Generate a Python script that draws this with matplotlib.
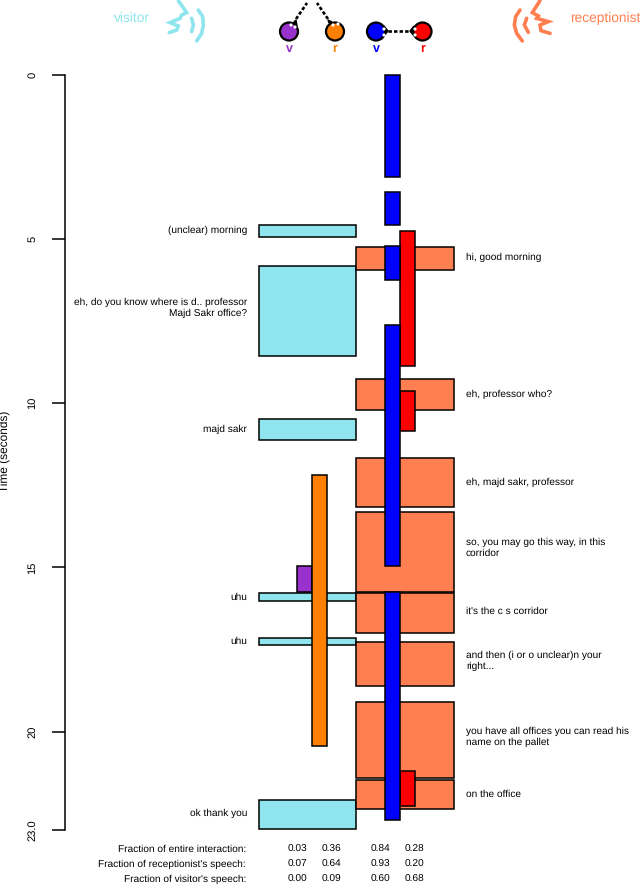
import matplotlib; matplotlib.use("Agg")
import matplotlib.pyplot as plt
from matplotlib.patches import Circle, Polygon

plt.rcParams['font.family'] = ['Liberation Sans', 'DejaVu Sans']
plt.rcParams['text.hinting'] = 'none'

# speech and gaze intervals, seconds
visitor_start = [4.57, 5.81, 10.48, 15.79, 17.16, 22.08]
visitor_end = [4.92, 8.55, 11.12, 16.01, 17.36, 22.98]
recept_start = [5.25, 9.27, 11.68, 13.32, 15.77, 17.28, 19.09, 21.47]
recept_end = [5.94, 10.22, 13.17, 15.74, 16.99, 18.60, 21.42, 22.36]
purple_start = [14.95]
purple_end = [15.76]
orange_start = [12.18]
orange_end = [20.44]
blue_start = [0.00, 3.56, 5.21, 7.62, 15.76]
blue_end = [3.11, 4.57, 6.24, 14.96, 22.69]
red_start = [4.75, 9.62, 21.20]
red_end = [8.88, 10.83, 22.27]

visitor_text = [(4.72, "(unclear) morning"),
                (7.10, "eh, do you know where is d.. professor\nMajd Sakr office?"),
                (10.78, "majd sakr"), (15.92, "uhu"), (17.24, "uhu"),
                (22.48, "ok thank you")]
recept_text = [(5.55, "hi, good morning"), (9.72, "eh, professor who?"),
               (12.40, "eh, majd sakr, professor"),
               (14.41, "so, you may go this way, in this\ncorridor"),
               (16.35, "it's the c s corridor"),
               (17.85, "and then (i or o unclear)n your\nright..."),
               (20.17, "you have all offices you can read his\nname on the pallet"),
               (21.90, "on the office")]

yticks = [0, 5, 10, 15, 20, 23]
yticklabels = ["0", "5", "10", "15", "20", "23.0"]

row_names = ["Fraction of entire interaction:", "Fraction of receptionist's speech:",
             "Fraction of visitor's speech:"]
purple_frac = ["0.03", "0.07", "0.00"]
orange_frac = ["0.36", "0.64", "0.09"]
blue_frac = ["0.84", "0.93", "0.60"]
red_frac = ["0.28", "0.20", "0.68"]

CYAN = '#8EE5EE'; CORAL = '#FF7F50'; PURPLE = '#9932CC'
ORANGE = '#FF7F00'; BLUE = '#0000FF'; RED = '#FF0000'
FS = 7.3

fig = plt.figure(figsize=(6.4, 8.85), dpi=100)
# horizontal units are pixels, vertical scale is time
ax = fig.add_axes([0, 0, 1, 1])
px = 755 / 23.0
ax.set_xlim(0, 640)
ax.set_ylim((885 - 75) / px, -75 / px)
ax.patch.set_visible(False)
for s in ['top', 'right', 'bottom']:
    ax.spines[s].set_visible(False)
ax.spines['left'].set_position(('data', 65))
ax.spines['left'].set_bounds(0, 23)
ax.spines['left'].set_linewidth(1.1)
ax.set_xticks([])
ax.set_yticks(yticks, yticklabels, rotation=90, va='center', fontsize=FS + 0.7)
ax.tick_params(axis='y', length=9.2, width=1.1, pad=10.5)


def bars(x0, x1, start, end, color, z):
    for a, b in zip(start, end):
        ax.bar(x0, b - a, width=x1 - x0, bottom=a, align='edge', color=color,
               edgecolor='black', linewidth=1.1, zorder=z)


bars(259, 356, visitor_start, visitor_end, CYAN, 2)
bars(356, 454, recept_start, recept_end, CORAL, 2)
bars(297, 312, purple_start, purple_end, PURPLE, 3)
bars(312, 327, orange_start, orange_end, ORANGE, 3)
bars(400, 415, red_start, red_end, RED, 3)
bars(385, 400, blue_start, blue_end, BLUE, 4)

for t, s in visitor_text:
    ax.text(247, t, s, ha='right', va='center', fontsize=FS, linespacing=1.2)
for t, s in recept_text:
    ax.text(466, t, s, ha='left', va='center', fontsize=FS, linespacing=1.2)

# overlay in pixel coordinates for the header drawings and footer table
ov = fig.add_axes([0, 0, 1, 1])
ov.set_xlim(0, 640); ov.set_ylim(885, 0); ov.axis('off')

ov.text(5.5, 451, "Time (seconds)", rotation=90, ha='center', va='center', fontsize=8.6)

for i, y in enumerate([849, 864, 879]):
    ov.text(246, y, row_names[i], ha='right', va='center', fontsize=FS)
    for x, col in zip([297.5, 331.5, 380, 414], [purple_frac, orange_frac, blue_frac, red_frac]):
        ov.text(x, y, col[i], ha='center', va='center', fontsize=FS)

ov.text(132, 18, "visitor", color=CYAN, ha='center', va='center', fontsize=9.9)
ov.text(605, 18, "receptionist", color=CORAL, ha='center', va='center', fontsize=9.9)


def icon(ox, paths, color):
    for p in paths:
        ov.plot([ox + q[0] / 3 for q in p], [q[1] / 3 for q in p], color=color, lw=2.6,
                solid_capstyle='round', solid_joinstyle='miter')


icon(160, [[(55, 2), (80, 38), (65, 45), (60, 55), (30, 68), (55, 78), (50, 90), (28, 98)],
           [(95, 55), (100, 75), (95, 95)],
           [(115, 30), (128, 50), (130, 75), (125, 100), (110, 123)]], CYAN)
icon(505, [[(105, 2), (82, 38), (100, 48), (95, 55), (130, 65), (105, 75), (108, 92), (135, 100)],
           [(65, 55), (58, 75), (70, 97)],
           [(45, 30), (32, 50), (28, 75), (35, 100), (52, 123)]], CORAL)

# head drawings with dashed gaze lines
gaze = [((296, 19), (307, 3)), ((328, 19), (317, 3)), ((388, 31), (411, 31))]
for a, b in gaze:
    ov.plot([a[0], b[0]], [a[1], b[1]], color='black', lw=1.9, ls=(0, (1.3, 0.8)), zorder=2)
heads = [(289, PURPLE, 'v'), (335, ORANGE, 'r'), (376, BLUE, 'v'), (422.5, RED, 'r')]
for x, c, name in heads:
    ov.add_patch(Circle((x, 31.5), 9, facecolor=c, edgecolor='black', lw=1.6, zorder=3))
    ov.text(x, 49, name, color=c, ha='center', va='center', fontsize=9, fontweight='bold')
ov.add_patch(Polygon([(293, 23), (296, 20), (297, 26)], color='black', zorder=4))
ov.add_patch(Polygon([(329, 23), (328, 20), (332, 22)], color='black', zorder=4))
ov.add_patch(Polygon([(384, 26), (388, 31), (384, 36)], color='black', zorder=2.5))
ov.add_patch(Polygon([(414, 26), (410, 31), (414, 36)], color='black', zorder=2.5))
for x, y in [(291, 25), (295, 27), (333, 25), (338, 24), (384, 29), (384, 35), (415, 29), (415, 35)]:
    ov.add_patch(Circle((x, y), 0.9, color='white', zorder=5))

fig.savefig("out.png", dpi=100)
